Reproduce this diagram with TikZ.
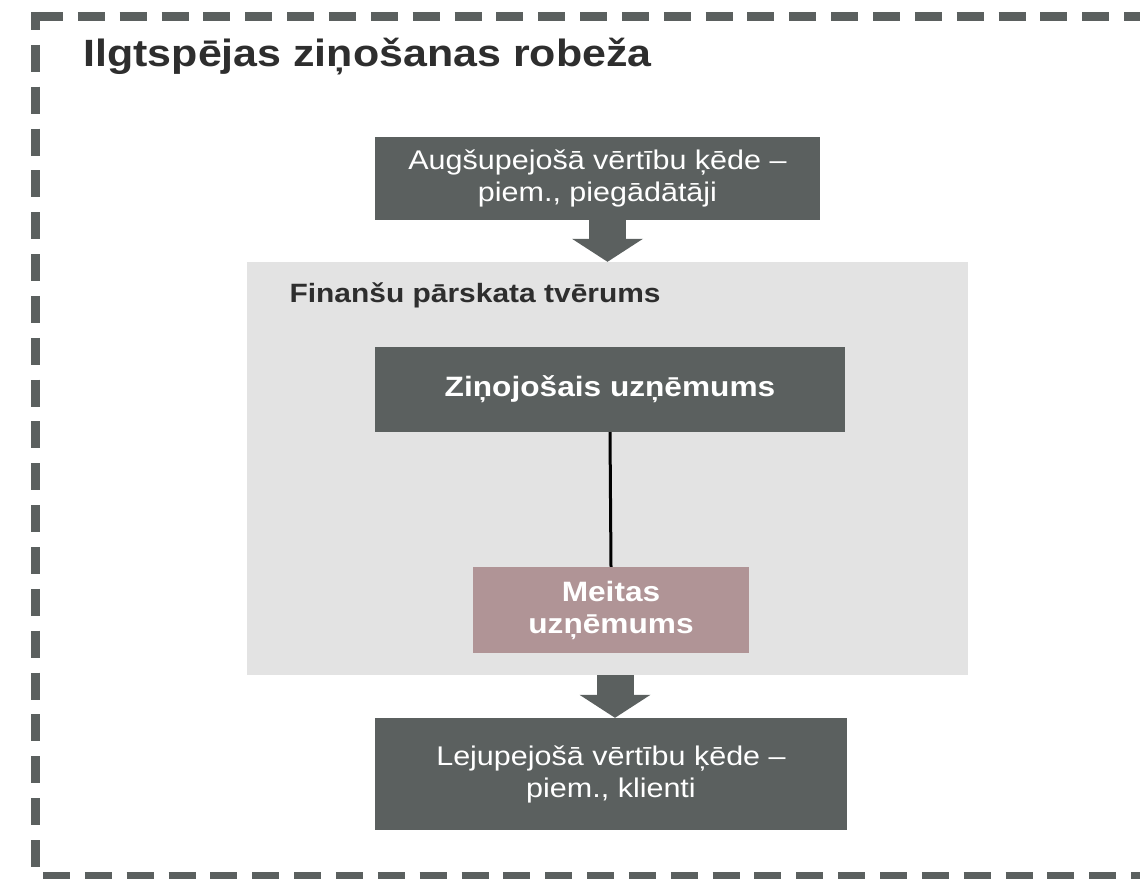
\documentclass[tikz,border=0pt]{standalone}
\usepackage{fontspec}
\setmainfont{Liberation Sans}[FakeStretch=1.13]
\usetikzlibrary{arrows.meta}
\definecolor{slate}{HTML}{5B605F}
\definecolor{scopefill}{HTML}{E3E3E3}
\definecolor{mauve}{HTML}{B09496}
\definecolor{ink}{HTML}{2E2E2E}
\begin{document}
\begin{tikzpicture}[x=1pt,y=1pt,
    chainbox/.style={fill=slate,text=white,align=center,inner sep=0pt,font=\fontsize{27}{32}\selectfont},
    entity/.style={chainbox,font=\bfseries\fontsize{28}{32}\selectfont},
    bigarrow/.style={draw=slate,line width=37pt,-{Triangle[width=71pt,length=23pt,line width=0pt]}},
    boundary/.style={slate,line width=9pt,dash pattern=on 27pt off 14.85pt}]
  \useasboundingbox (0,0) rectangle (1140,878);
  \draw[boundary,dash phase=9pt] (35.5,866) -- (35.5,-10);
  \draw[boundary] (36,861.5) -- (1170,861.5);
  \draw[boundary] (43,1.5) -- (1170,1.5);
  \node[anchor=base west,text=ink,font=\bfseries\fontsize{38}{42}\selectfont] (title) at (80,811) {Ilgtspējas ziņošanas robeža};

  \node[fill=scopefill,minimum width=721pt,minimum height=413pt,inner sep=0pt] (scope) at (607.5,409.5) {};
  \node[anchor=base west,text=ink,font=\bfseries\fontsize{26.5}{30}\selectfont] (scopelabel) at (286,575) {Finanšu pārskata tvērums};

  \node[chainbox,minimum width=445pt,minimum height=83pt] (up) at (597.5,699.5) {Augšupejošā vērtību ķēde --\\piem., piegādātāji};
  \node[entity,minimum width=470pt,minimum height=85pt] (report) at (610,488.5) {Ziņojošais uzņēmums};
  \node[entity,fill=mauve,minimum width=276pt,minimum height=86pt] (sub) at (611,268) {Meitas\\uzņēmums};
  \node[chainbox,minimum width=472pt,minimum height=112pt] (down) at (611,104) {Lejupejošā vērtību ķēde --\\piem., klienti};

  \draw[bigarrow] (scope.north |- up.south) -- (scope.north);
  \draw[bigarrow] ([xshift=4pt]sub.south |- scope.south) -- ([xshift=4pt]sub.south |- down.north);
  \draw[line width=3pt] (report.south) -- (sub.north);
\end{tikzpicture}
\end{document}
